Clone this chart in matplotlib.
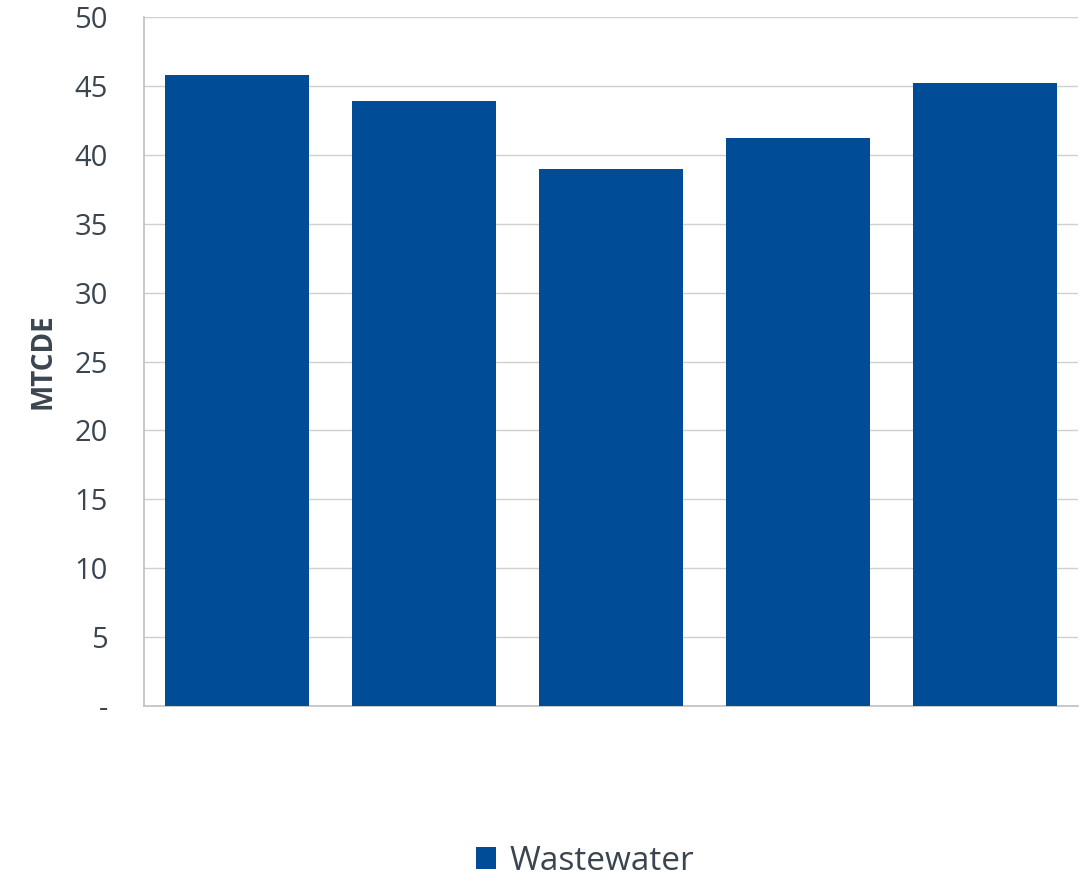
import matplotlib.pyplot as plt
import numpy as np

categories = ['1', '2', '3', '4', '5']
wastewater = [45.8, 43.9, 39.0, 41.2, 45.2]
y_ticks = [0, 5, 10, 15, 20, 25, 30, 35, 40, 45, 50]
y_tick_labels = ['-', '5', '10', '15', '20', '25', '30', '35', '40', '45', '50']

plt.rcParams['font.family'] = ['Open Sans', 'DejaVu Sans']
text_color = '#3a4550'
bar_color = '#004c97'

fig = plt.figure(figsize=(10.89, 8.83), dpi=100)
ax = fig.add_axes([0.1322, 0.2004, 0.8577, 0.7803])

x = np.arange(len(categories))
ax.bar(x, wastewater, width=0.77, color=bar_color, label='Wastewater', zorder=3)

ax.set_xlim(-0.5, len(categories) - 0.5)
ax.set_ylim(0, 50)
ax.set_yticks(y_ticks)
ax.set_yticklabels(y_tick_labels)
ax.set_xticks([])
ax.yaxis.grid(True, color='#d0d0d0', linewidth=1, zorder=0)
ax.tick_params(axis='y', length=0, labelsize=21, labelcolor=text_color, pad=26)
for side in ['left', 'bottom', 'top', 'right']:
    ax.spines[side].set_color('#c0c0c0')
    ax.spines[side].set_linewidth(1.2)
ax.spines['top'].set_visible(False)
ax.spines['right'].set_visible(False)

ax.set_ylabel('MTCDE', fontsize=20, fontweight='bold', color=text_color, labelpad=12)

leg = fig.legend(loc='lower center', bbox_to_anchor=(0.537, -0.028), frameon=False,
                 fontsize=24, handlelength=0.6, handleheight=0.6, handletextpad=0.4)
for t in leg.get_texts():
    t.set_color(text_color)

fig.savefig('out.png', dpi=100)
